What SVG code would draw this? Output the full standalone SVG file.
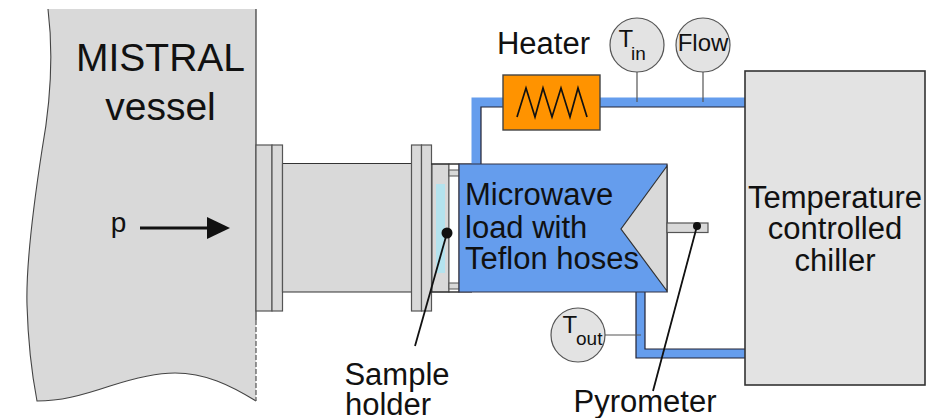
<svg xmlns="http://www.w3.org/2000/svg" width="934" height="418" viewBox="0 0 934 418">
<style>
text{font-family:"Liberation Sans",Arial,sans-serif;fill:#111;text-anchor:middle}
.m{font-size:31px}.big{font-size:39px}.l{text-anchor:start}
.f{fill:#d9d9d9;stroke:#555;stroke-width:1.2}
.b{fill:#659ded}
.e{fill:none;stroke:#223;stroke-width:1.2}
.g{fill:#e3e3e3;stroke:#555;stroke-width:1.2}
.s{stroke:#555;stroke-width:1.2;fill:none}
.k{stroke:#111;stroke-width:1.8;fill:none}
</style>
<g id="vessel">
<path d="M48 9C53 50 51 100 42 150C32 215 26 270 27 305C28 340 32 375 37 401C60 401 80 396 110 386C135 378 155 373 175 373C205 373 230 385 256 401L256 9Z" fill="#d9d9d9"/>
<path d="M48 9C53 50 51 100 42 150C32 215 26 270 27 305C28 340 32 375 37 401C60 401 80 396 110 386C135 378 155 373 175 373C205 373 230 385 256 401" fill="none" stroke="#444" stroke-width="1.1"/>
<path d="M256 9V320" stroke="#444" stroke-width="1.3" fill="none"/>
<path d="M256 320V401" stroke="#555" stroke-width="1.2" stroke-dasharray="5 2" fill="none"/>
<text x="160.500" y="71" class="big">MISTRAL</text>
<text x="160.500" y="120" class="big">vessel</text>
<text x="118.500" y="232" font-size="28">p</text>
<path d="M140 228H208" stroke="#111" stroke-width="3.2" fill="none"/>
<path d="M207 217L230 228L207 239Z" fill="#111"/>
</g>
<g id="tube">
<rect class="f" x="256" y="145" width="16" height="166"/>
<rect class="f" x="272" y="145" width="10.500" height="166"/>
<rect x="282.500" y="163.500" width="129" height="128.500" fill="#d9d9d9"/>
<path d="M282.500 163.500H411.500M282.500 292H411.500" stroke="#333" stroke-width="1.2" fill="none"/>
<path class="s" d="M282.500 163.500V292"/>
</g>
<g id="sample-holder">
<rect class="f" x="411.500" y="145" width="10" height="166"/>
<rect class="f" x="421.500" y="145" width="10" height="166"/>
<rect class="f" x="432" y="164" width="17" height="128"/>
<rect x="436" y="184" width="9" height="89" fill="#b4e3ee"/>
<rect x="449" y="164" width="10" height="128" fill="#fff" stroke="#555" stroke-width="1"/>
<rect x="449" y="170" width="10" height="6" fill="#d9d9d9" stroke="#555" stroke-width="1"/>
<rect x="449" y="283" width="10" height="6" fill="#d9d9d9" stroke="#555" stroke-width="1"/>
<path d="M431 164H472M431 292H472" stroke="#222" stroke-width="1.2"/>
</g>
<g id="connectors">
<path class="b" d="M471.500 164V97.500H503V107H481V164Z"/>
<path class="e" d="M481 164V107H503"/>
<path class="b" d="M600 97.500H745V107H600Z"/>
<path class="e" d="M600 107H745"/>
<path class="b" d="M636 292H645V349H745V358H636Z"/>
<path class="e" d="M645 292V349H745M636 292V358H745"/>
<path class="s" d="M637 72V102M703 72V102M605 335H641"/>
</g>
<g id="load">
<path d="M459 164H667V292H459Z" fill="#659ded" stroke="#334" stroke-width="1.2"/>
<path d="M667 166L621 229L667 291Z" fill="#d9d9d9" stroke="#333" stroke-width="1.2"/>
<rect class="f" x="667" y="223" width="41" height="9.500"/>
<text x="465" y="205" class="m l">Microwave</text>
<text x="465" y="238" class="m l">load with</text>
<text x="465" y="269" class="m l">Teflon hoses</text>
</g>
<g id="heater">
<rect x="503" y="75" width="97" height="55" fill="#ff9300" stroke="#444" stroke-width="1.4"/>
<path d="M517 117L526 88L535 117L543 88L552 117L561 88L570 117L578 88L587 117" fill="none" stroke="#111" stroke-width="1.7"/>
<text x="543.500" y="54" class="m">Heater</text>
</g>
<g id="t-in"><circle class="g" cx="637" cy="45" r="27"/><text x="618.500" y="47" font-size="24" class="l">T</text><text x="631" y="60" font-size="19" class="l">in</text></g>
<g id="flow"><circle class="g" cx="703" cy="45" r="27"/><text x="703" y="51" font-size="24">Flow</text></g>
<g id="t-out"><circle class="g" cx="578" cy="335" r="27"/><text x="562.500" y="333" font-size="24" class="l">T</text><text x="576" y="345" font-size="19" class="l">out</text></g>
<g id="chiller">
<rect x="745" y="71" width="180" height="314" fill="#e3e3e3" stroke="#333" stroke-width="1.6"/>
<text x="835" y="208" class="m">Temperature</text>
<text x="835" y="239" class="m">controlled</text>
<text x="835" y="271" class="m">chiller</text>
</g>
<g id="labels">
<path d="M415 346L447 233" class="k"/><circle cx="447" cy="233" r="5.500" fill="#111"/>
<path d="M653 391L697 226" class="k"/><circle cx="697" cy="226" r="4" fill="#111"/>
<text x="397" y="385" class="m">Sample</text>
<text x="388" y="415" class="m">holder</text>
<text x="645" y="412" class="m">Pyrometer</text>
</g>
</svg>
